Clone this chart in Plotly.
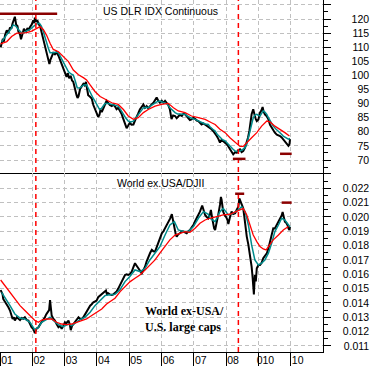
import plotly.graph_objects as go

# ---------------- data ----------------
years = [2001, 2002, 2003, 2004, 2005, 2006, 2007, 2008, 2009, 2010]
year_labels = ["01", "02", "03", "04", "05", "06", "07", "08", "010", "10"]
event_dates = [2002.11, 2008.38]

dlr_ticks = [70, 75, 80, 85, 90, 95, 100, 105, 110, 115, 120]
ratio_ticks = [0.011, 0.012, 0.013, 0.014, 0.015, 0.016, 0.017, 0.018, 0.019, 0.020, 0.021, 0.022]

# US Dollar index (black price line)
dlr_t = [2001.02, 2001.05, 2001.09, 2001.12, 2001.16, 2001.21, 2001.26, 2001.31, 2001.35, 2001.39,
         2001.43, 2001.46, 2001.50, 2001.54, 2001.57, 2001.62, 2001.65, 2001.67, 2001.70, 2001.74,
         2001.77, 2001.81, 2001.85, 2001.89, 2001.93, 2001.98, 2002.03, 2002.06, 2002.08, 2002.12,
         2002.16, 2002.19, 2002.24, 2002.29, 2002.34, 2002.39, 2002.44, 2002.48, 2002.53, 2002.56,
         2002.60, 2002.65, 2002.70, 2002.75, 2002.81, 2002.86, 2002.91, 2002.96, 2003.01, 2003.06,
         2003.10, 2003.14, 2003.19, 2003.23, 2003.27, 2003.32, 2003.37, 2003.40, 2003.43, 2003.48,
         2003.53, 2003.58, 2003.62, 2003.66, 2003.70, 2003.73, 2003.78, 2003.84, 2003.89, 2003.94,
         2003.99, 2004.04, 2004.08, 2004.11, 2004.15, 2004.20, 2004.25, 2004.30, 2004.35, 2004.40,
         2004.46, 2004.51, 2004.56, 2004.61, 2004.66, 2004.71, 2004.77, 2004.82, 2004.87, 2004.92,
         2004.97, 2005.02, 2005.07, 2005.13, 2005.18, 2005.23, 2005.28, 2005.33, 2005.39, 2005.44,
         2005.49, 2005.54, 2005.59, 2005.64, 2005.70, 2005.75, 2005.80, 2005.85, 2005.90, 2005.95,
         2006.01, 2006.06, 2006.11, 2006.16, 2006.21, 2006.26, 2006.31, 2006.36, 2006.42, 2006.47,
         2006.52, 2006.57, 2006.63, 2006.68, 2006.73, 2006.78, 2006.83, 2006.88, 2006.93, 2006.99,
         2007.04, 2007.09, 2007.14, 2007.19, 2007.24, 2007.30, 2007.35, 2007.40, 2007.45, 2007.50,
         2007.55, 2007.60, 2007.66, 2007.71, 2007.76, 2007.81, 2007.86, 2007.91, 2007.97, 2008.02,
         2008.07, 2008.12, 2008.17, 2008.22, 2008.28, 2008.33, 2008.38, 2008.43, 2008.48, 2008.53,
         2008.59, 2008.64, 2008.68, 2008.72, 2008.76, 2008.79, 2008.84, 2008.86, 2008.89, 2008.92,
         2008.95, 2009.00, 2009.05, 2009.09, 2009.13, 2009.16, 2009.20, 2009.26, 2009.31, 2009.36,
         2009.41, 2009.46, 2009.51, 2009.57, 2009.62, 2009.67, 2009.72, 2009.77, 2009.82, 2009.87,
         2009.93, 2009.96, 2009.98]
dlr_v = [110.0, 111.5, 113.0, 112.0, 114.5, 116.0, 115.0, 117.0, 116.5, 118.5,
         119.5, 120.8, 118.0, 117.5, 115.5, 114.5, 112.8, 113.5, 115.0, 116.5,
         116.0, 115.5, 116.8, 116.0, 117.2, 118.0, 119.5, 118.5, 120.5, 119.0,
         119.5, 118.3, 117.5, 115.0, 113.0, 110.5, 108.2, 106.0, 104.0, 105.5,
         106.5, 108.0, 107.5, 108.2, 107.0, 105.5, 104.0, 102.5, 100.5, 99.5,
         100.8, 99.0, 99.8, 98.2, 97.7, 95.0, 93.0, 92.0, 92.6, 95.2,
         96.0, 97.0, 96.5, 97.7, 95.0, 93.0, 92.5, 91.8, 89.5, 88.2,
         86.5, 85.3, 86.0, 87.8, 87.0, 88.5, 89.5, 91.0, 90.3, 89.5,
         89.1, 89.6, 89.0, 88.0, 88.5, 87.5, 86.2, 84.5, 82.6, 81.3,
         82.2, 83.2, 82.5, 82.6, 84.0, 85.0, 86.5, 87.9, 89.0, 89.7,
         88.5, 89.1, 88.3, 89.1, 89.8, 90.3, 91.2, 92.2, 91.0, 90.3,
         91.0, 90.3, 91.0, 90.3, 89.5, 87.9, 84.5, 85.8, 85.6, 84.8,
         85.4, 86.0, 85.6, 86.4, 86.2, 85.5, 85.0, 84.2, 84.4, 85.0,
         84.6, 84.0, 83.8, 83.0, 82.6, 83.0, 82.6, 82.2, 82.0, 81.5,
         80.9, 80.3, 79.5, 78.5, 77.5, 76.2, 77.2, 76.8, 76.0, 75.6,
         74.8, 73.8, 72.8, 72.0, 72.8, 72.6, 73.5, 73.8, 72.8, 73.2,
         74.5, 76.2, 78.0, 80.3, 83.5, 86.2, 88.0, 86.5, 85.6, 84.5,
         83.8, 84.4, 86.8, 87.5, 88.8, 87.2, 86.2, 85.5, 84.4, 82.5,
         81.5, 80.5, 79.7, 79.0, 78.8, 78.5, 78.0, 77.2, 76.8, 76.0,
         75.0, 75.5, 77.4]

# short moving average (teal)
dlr_fast_t = [2001.05, 2001.15, 2001.26, 2001.34, 2001.41, 2001.49, 2001.57, 2001.65, 2001.72, 2001.82,
              2001.93, 2002.00, 2002.08, 2002.15, 2002.22, 2002.28, 2002.34, 2002.39, 2002.44, 2002.50,
              2002.55, 2002.65, 2002.75, 2002.81, 2002.88, 2002.96, 2003.04, 2003.12, 2003.20, 2003.27,
              2003.33, 2003.39, 2003.46, 2003.53, 2003.60, 2003.68, 2003.75, 2003.81, 2003.88, 2003.94,
              2004.01, 2004.08, 2004.14, 2004.20, 2004.25, 2004.35, 2004.46, 2004.56, 2004.66, 2004.74,
              2004.82, 2004.90, 2004.97, 2005.05, 2005.13, 2005.20, 2005.28, 2005.36, 2005.44, 2005.52,
              2005.59, 2005.70, 2005.80, 2005.88, 2005.95, 2006.03, 2006.11, 2006.18, 2006.26, 2006.34,
              2006.42, 2006.50, 2006.57, 2006.65, 2006.73, 2006.80, 2006.88, 2006.96, 2007.04, 2007.14,
              2007.24, 2007.35, 2007.45, 2007.50, 2007.58, 2007.66, 2007.73, 2007.81, 2007.89, 2007.97,
              2008.05, 2008.12, 2008.20, 2008.28, 2008.35, 2008.43, 2008.53, 2008.59, 2008.64, 2008.69,
              2008.74, 2008.79, 2008.84, 2008.90, 2008.95, 2009.00, 2009.05, 2009.10, 2009.15, 2009.20,
              2009.26, 2009.31, 2009.36, 2009.41, 2009.46, 2009.54, 2009.62, 2009.70, 2009.77, 2009.85,
              2009.93, 2009.98]
dlr_fast_v = [111.9, 113.5, 115.0, 116.5, 117.9, 117.5, 116.3, 115.3, 115.0, 115.8,
              116.3, 117.0, 117.9, 118.4, 118.5, 117.5, 115.6, 113.5, 111.4, 109.5,
              108.0, 108.0, 108.3, 108.0, 106.5, 104.9, 103.0, 101.3, 100.5, 100.1,
              98.0, 95.6, 95.5, 96.1, 96.6, 96.7, 95.0, 93.2, 92.0, 90.9,
              89.3, 88.0, 88.3, 89.2, 90.0, 90.0, 89.7, 89.3, 89.1, 87.8,
              86.2, 84.8, 83.8, 83.5, 83.8, 84.8, 86.2, 87.5, 88.5, 88.7,
              88.5, 89.5, 90.3, 90.8, 90.9, 90.6, 90.3, 89.8, 88.5, 87.5,
              86.8, 86.3, 86.2, 86.1, 86.2, 85.6, 85.0, 84.6, 84.4, 83.8,
              83.2, 82.8, 82.6, 81.8, 81.0, 80.3, 79.0, 77.9, 77.2, 76.8,
              76.0, 75.0, 74.0, 73.2, 73.0, 73.2, 73.8, 74.5, 75.6, 77.8,
              80.3, 82.8, 85.0, 86.0, 86.2, 85.8, 85.6, 86.5, 87.4, 87.0,
              86.2, 85.0, 83.8, 82.8, 82.0, 81.0, 80.3, 79.3, 78.5, 77.9,
              77.4, 77.6]

# long moving average (red)
dlr_slow_t = [2001.02, 2001.21, 2001.36, 2001.52, 2001.67, 2001.83, 2001.98, 2002.14, 2002.24, 2002.34,
              2002.44, 2002.55, 2002.65, 2002.81, 2002.96, 2003.12, 2003.27, 2003.43, 2003.58, 2003.68,
              2003.79, 2003.94, 2004.10, 2004.25, 2004.46, 2004.66, 2004.82, 2004.97, 2005.13, 2005.28,
              2005.44, 2005.59, 2005.80, 2006.00, 2006.21, 2006.37, 2006.52, 2006.73, 2006.93, 2007.14,
              2007.35, 2007.55, 2007.66, 2007.81, 2007.97, 2008.12, 2008.28, 2008.43, 2008.53, 2008.64,
              2008.79, 2008.95, 2009.10, 2009.26, 2009.36, 2009.51, 2009.67, 2009.82, 2009.96]
dlr_slow_v = [111.2, 112.0, 113.8, 115.0, 115.0, 115.2, 115.7, 116.7, 117.3, 116.3,
              114.3, 111.4, 109.2, 108.4, 106.6, 104.9, 101.9, 100.2, 99.2, 98.4,
              96.6, 94.3, 92.5, 91.5, 90.3, 89.7, 87.9, 85.6, 84.4, 85.0,
              86.8, 87.9, 89.1, 89.7, 90.1, 88.5, 87.4, 86.8, 85.6, 85.0,
              84.4, 83.2, 82.6, 80.9, 79.7, 77.9, 76.2, 74.8, 74.8, 76.2,
              77.9, 79.7, 82.0, 83.8, 83.5, 82.0, 80.9, 79.7, 78.5]

# World ex-USA / DJII ratio (black)
ratio_t = [2001.02, 2001.05, 2001.08, 2001.10, 2001.15, 2001.21, 2001.26, 2001.31, 2001.35, 2001.39,
           2001.43, 2001.46, 2001.52, 2001.57, 2001.62, 2001.67, 2001.72, 2001.77, 2001.83, 2001.88,
           2001.93, 2001.98, 2002.03, 2002.08, 2002.13, 2002.19, 2002.24, 2002.29, 2002.34, 2002.39,
           2002.43, 2002.47, 2002.52, 2002.55, 2002.58, 2002.60, 2002.65, 2002.70, 2002.76, 2002.81,
           2002.86, 2002.91, 2002.96, 2003.01, 2003.06, 2003.12, 2003.16, 2003.19, 2003.23, 2003.27,
           2003.32, 2003.37, 2003.43, 2003.48, 2003.53, 2003.58, 2003.63, 2003.68, 2003.74, 2003.79,
           2003.84, 2003.89, 2003.94, 2003.99, 2004.04, 2004.10, 2004.15, 2004.20, 2004.25, 2004.28,
           2004.31, 2004.35, 2004.40, 2004.46, 2004.51, 2004.56, 2004.61, 2004.66, 2004.71, 2004.77,
           2004.82, 2004.87, 2004.92, 2004.97, 2005.02, 2005.08, 2005.13, 2005.18, 2005.23, 2005.28,
           2005.34, 2005.39, 2005.44, 2005.49, 2005.54, 2005.59, 2005.65, 2005.70, 2005.75, 2005.80,
           2005.85, 2005.90, 2005.96, 2006.01, 2006.06, 2006.11, 2006.16, 2006.21, 2006.27, 2006.32,
           2006.36, 2006.40, 2006.44, 2006.47, 2006.52, 2006.57, 2006.63, 2006.68, 2006.73, 2006.78,
           2006.83, 2006.88, 2006.94, 2006.99, 2007.04, 2007.09, 2007.14, 2007.19, 2007.26, 2007.30,
           2007.35, 2007.40, 2007.45, 2007.50, 2007.53, 2007.57, 2007.60, 2007.63, 2007.66, 2007.71,
           2007.76, 2007.81, 2007.84, 2007.86, 2007.91, 2007.96, 2008.00, 2008.04, 2008.07, 2008.12,
           2008.17, 2008.22, 2008.28, 2008.33, 2008.38, 2008.41, 2008.43, 2008.46, 2008.48, 2008.53,
           2008.56, 2008.59, 2008.64, 2008.69, 2008.74, 2008.79, 2008.82, 2008.84, 2008.86, 2008.89,
           2008.92, 2008.95, 2009.00, 2009.05, 2009.10, 2009.15, 2009.20, 2009.26, 2009.31, 2009.36,
           2009.41, 2009.46, 2009.51, 2009.57, 2009.62, 2009.67, 2009.72, 2009.75, 2009.78, 2009.82,
           2009.86, 2009.90, 2009.93, 2009.96, 2009.98]
ratio_v = [0.01490, 0.01474, 0.01460, 0.01428, 0.01410, 0.01393, 0.01370, 0.01347, 0.01310, 0.01288,
           0.01300, 0.01277, 0.01300, 0.01288, 0.01280, 0.01295, 0.01290, 0.01300, 0.01280, 0.01277,
           0.01250, 0.01230, 0.01220, 0.01190, 0.01220, 0.01230, 0.01250, 0.01265, 0.01280, 0.01300,
           0.01320, 0.01335, 0.01350, 0.01420, 0.01350, 0.01312, 0.01290, 0.01277, 0.01250, 0.01230,
           0.01240, 0.01219, 0.01240, 0.01265, 0.01260, 0.01277, 0.01250, 0.01210, 0.01240, 0.01253,
           0.01270, 0.01288, 0.01300, 0.01288, 0.01290, 0.01300, 0.01320, 0.01335, 0.01360, 0.01381,
           0.01390, 0.01405, 0.01410, 0.01416, 0.01440, 0.01451, 0.01460, 0.01474, 0.01480, 0.01486,
           0.01460, 0.01467, 0.01460, 0.01456, 0.01460, 0.01467, 0.01480, 0.01500, 0.01520, 0.01549,
           0.01570, 0.01595, 0.01600, 0.01595, 0.01600, 0.01619, 0.01650, 0.01677, 0.01660, 0.01642,
           0.01620, 0.01607, 0.01630, 0.01653, 0.01690, 0.01723, 0.01750, 0.01770, 0.01760, 0.01758,
           0.01790, 0.01828, 0.01860, 0.01886, 0.01900, 0.01921, 0.01940, 0.01967, 0.01990, 0.02020,
           0.01970, 0.01909, 0.01880, 0.01863, 0.01880, 0.01886, 0.01900, 0.01898, 0.01890, 0.01886,
           0.01900, 0.01909, 0.01930, 0.01944, 0.01970, 0.01991, 0.02010, 0.02037, 0.02080, 0.02050,
           0.02014, 0.02000, 0.01991, 0.02020, 0.02049, 0.01990, 0.01944, 0.01920, 0.01909, 0.01956,
           0.02020, 0.02084, 0.02140, 0.02120, 0.02037, 0.02010, 0.02000, 0.01980, 0.01950, 0.02000,
           0.02037, 0.02020, 0.02026, 0.02050, 0.02072, 0.02130, 0.02119, 0.02110, 0.02095, 0.02060,
           0.02010, 0.01944, 0.01863, 0.01805, 0.01735, 0.01653, 0.01580, 0.01510, 0.01460, 0.01595,
           0.01550, 0.01642, 0.01665, 0.01665, 0.01680, 0.01712, 0.01730, 0.01747, 0.01780, 0.01828,
           0.01880, 0.01921, 0.01920, 0.01944, 0.01970, 0.01991, 0.02010, 0.02035, 0.02000, 0.01967,
           0.01960, 0.01944, 0.01920, 0.01909, 0.01930]

ratio_fast_t = [2001.05, 2001.15, 2001.31, 2001.46, 2001.62, 2001.77, 2001.93, 2002.08, 2002.19, 2002.29,
                2002.44, 2002.55, 2002.65, 2002.81, 2002.96, 2003.12, 2003.22, 2003.32, 2003.48, 2003.63,
                2003.79, 2003.94, 2004.10, 2004.25, 2004.35, 2004.46, 2004.56, 2004.71, 2004.87, 2005.02,
                2005.18, 2005.34, 2005.49, 2005.64, 2005.80, 2005.95, 2006.11, 2006.26, 2006.40, 2006.52,
                2006.68, 2006.83, 2006.99, 2007.14, 2007.30, 2007.45, 2007.50, 2007.66, 2007.81, 2007.91,
                2008.07, 2008.22, 2008.38, 2008.48, 2008.59, 2008.69, 2008.79, 2008.89, 2009.00, 2009.10,
                2009.20, 2009.31, 2009.41, 2009.51, 2009.62, 2009.72, 2009.82, 2009.93, 2009.98]
ratio_fast_v = [0.01474, 0.01440, 0.01381, 0.01323, 0.01295, 0.01288, 0.01265, 0.01212, 0.01230, 0.01265,
                0.01288, 0.01300, 0.01277, 0.01249, 0.01235, 0.01253, 0.01242, 0.01258, 0.01284, 0.01300,
                0.01335, 0.01381, 0.01416, 0.01451, 0.01456, 0.01456, 0.01460, 0.01491, 0.01549, 0.01584,
                0.01630, 0.01619, 0.01642, 0.01700, 0.01747, 0.01793, 0.01874, 0.01944, 0.01967, 0.01909,
                0.01898, 0.01898, 0.01933, 0.01991, 0.02037, 0.02019, 0.01991, 0.01967, 0.02037, 0.02060,
                0.02014, 0.02026, 0.02049, 0.02072, 0.02037, 0.01944, 0.01805, 0.01700, 0.01665, 0.01677,
                0.01700, 0.01747, 0.01816, 0.01898, 0.01944, 0.01991, 0.01979, 0.01944, 0.01930]

ratio_slow_t = [2001.02, 2001.15, 2001.31, 2001.46, 2001.62, 2001.77, 2001.93, 2002.08, 2002.19, 2002.29,
                2002.44, 2002.60, 2002.75, 2002.91, 2003.06, 2003.22, 2003.37, 2003.53, 2003.68, 2003.84,
                2003.99, 2004.15, 2004.30, 2004.41, 2004.56, 2004.72, 2004.87, 2005.03, 2005.18, 2005.33,
                2005.49, 2005.64, 2005.80, 2005.95, 2006.11, 2006.26, 2006.42, 2006.57, 2006.73, 2006.88,
                2007.04, 2007.19, 2007.35, 2007.50, 2007.71, 2007.91, 2008.12, 2008.28, 2008.43, 2008.53,
                2008.64, 2008.74, 2008.84, 2008.95, 2009.05, 2009.15, 2009.24, 2009.31, 2009.46, 2009.62,
                2009.77, 2009.93]
ratio_slow_v = [0.01560, 0.01521, 0.01474, 0.01428, 0.01381, 0.01347, 0.01312, 0.01277, 0.01265, 0.01281,
                0.01288, 0.01288, 0.01265, 0.01253, 0.01249, 0.01253, 0.01265, 0.01277, 0.01288, 0.01312,
                0.01335, 0.01358, 0.01393, 0.01409, 0.01433, 0.01479, 0.01514, 0.01549, 0.01572, 0.01595,
                0.01630, 0.01665, 0.01700, 0.01747, 0.01793, 0.01840, 0.01874, 0.01886, 0.01898, 0.01893,
                0.01921, 0.01956, 0.01979, 0.01991, 0.02002, 0.02014, 0.02019, 0.02033, 0.02049, 0.02060,
                0.02014, 0.01944, 0.01874, 0.01828, 0.01793, 0.01777, 0.01770, 0.01793, 0.01840, 0.01874,
                0.01909, 0.01933]

# dark-red reference levels (start, end, level)
dlr_mark_start = [2001.00, 2008.21, 2009.67]
dlr_mark_end = [2002.77, 2008.60, 2010.03]
dlr_mark_level = [121.9, 70.4, 72.2]
ratio_mark_start = [2008.28, 2009.72]
ratio_mark_end = [2008.56, 2010.03]
ratio_mark_level = [0.02162, 0.02100]

# ---------------- figure ----------------
BLACK_W = 2.0
TEAL = "#008b8b"
RED = "#ff0000"
DARKRED = "#8b0000"
GRID = "#c0c0c0"
W, H = 371, 366
PLOT_R = 323
PLOT_B = 352
TOP_H = 173

xdom = [0, PLOT_R / W]
split = 1 - TOP_H / PLOT_B

fig = go.Figure()
fig.add_trace(go.Scatter(x=dlr_t, y=dlr_v, xaxis="x", yaxis="y3", mode="lines",
                         line=dict(color="black", width=BLACK_W)))
fig.add_trace(go.Scatter(x=dlr_fast_t, y=dlr_fast_v, xaxis="x", yaxis="y3", mode="lines",
                         line=dict(color=TEAL, width=1.5)))
fig.add_trace(go.Scatter(x=dlr_slow_t, y=dlr_slow_v, xaxis="x", yaxis="y3", mode="lines",
                         line=dict(color=RED, width=1.3)))
fig.add_trace(go.Scatter(x=ratio_t, y=ratio_v, xaxis="x2", yaxis="y4", mode="lines",
                         line=dict(color="black", width=BLACK_W)))
fig.add_trace(go.Scatter(x=ratio_fast_t, y=ratio_fast_v, xaxis="x2", yaxis="y4", mode="lines",
                         line=dict(color=TEAL, width=1.5)))
fig.add_trace(go.Scatter(x=ratio_slow_t, y=ratio_slow_v, xaxis="x2", yaxis="y4", mode="lines",
                         line=dict(color=RED, width=1.3)))

top_range = [65.39, 126.74]
bot_range = [0.010576, 0.023068]

grid_common = dict(showgrid=True, gridcolor=GRID, griddash="4px,3px", gridwidth=1, zeroline=False)

shapes = []
for d in event_dates:
    shapes.append(dict(type="line", xref="x", yref="paper", x0=d, x1=d, y0=0, y1=1,
                       line=dict(color=RED, width=1.5, dash="5px,4px")))
for s, e, lv in zip(dlr_mark_start, dlr_mark_end, dlr_mark_level):
    shapes.append(dict(type="line", xref="x", yref="y", x0=s, x1=e, y0=lv, y1=lv,
                       line=dict(color=DARKRED, width=2.5)))
for s, e, lv in zip(ratio_mark_start, ratio_mark_end, ratio_mark_level):
    shapes.append(dict(type="line", xref="x2", yref="y2", x0=s, x1=e, y0=lv, y1=lv,
                       line=dict(color=DARKRED, width=2.5)))

label_font = dict(family="Liberation Sans, Arial, sans-serif", size=10.5, color="black")

fig.update_layout(
    width=W, height=H,
    margin=dict(l=0, r=0, t=0, b=H - PLOT_B, pad=0),
    paper_bgcolor="white", plot_bgcolor="white",
    showlegend=False,
    font=label_font,
    xaxis=dict(domain=xdom, range=[2001, 2011], anchor="y", tickvals=years,
               showticklabels=False, ticks="", showline=True, linecolor="black", linewidth=1,
               **grid_common),
    xaxis2=dict(domain=xdom, range=[2001, 2011], anchor="y2", tickvals=years, ticktext=year_labels,
                ticks="outside", ticklen=14, tickcolor="black", tickwidth=1,
                ticklabelshift=7, ticklabelstandoff=-16, tickfont=label_font,
                showline=True, linecolor="black", linewidth=1, **grid_common),
    yaxis=dict(domain=[split, 1], range=top_range, anchor="x", side="right",
               tick0=0, dtick=5, showticklabels=False, ticks="outside", ticklen=7,
               tickcolor="black", tickwidth=1,
               minor=dict(dtick=2.5, ticks="outside", ticklen=4, tickcolor="black", showgrid=False),
               showline=True, linecolor="black", linewidth=1, **grid_common),
    yaxis3=dict(overlaying="y", range=top_range, side="left", anchor="free", position=0.995,
                tickvals=dlr_ticks, ticks="", showgrid=False, showline=False, zeroline=False,
                tickfont=label_font),
    yaxis2=dict(domain=[0, split], range=bot_range, anchor="x2", side="right",
                tick0=0, dtick=0.001, showticklabels=False, ticks="outside", ticklen=7,
                tickcolor="black", tickwidth=1,
                minor=dict(dtick=0.0005, ticks="outside", ticklen=4, tickcolor="black", showgrid=False),
                showline=True, linecolor="black", linewidth=1, **grid_common),
    yaxis4=dict(overlaying="y2", range=bot_range, side="left", anchor="free", position=0.995,
                tickvals=ratio_ticks, tickformat=".3f", ticks="", showgrid=False, showline=False,
                zeroline=False, tickfont=label_font),
    shapes=shapes,
    annotations=[
        dict(text="US DLR IDX Continuous", xref="paper", yref="paper",
             x=160 / W, y=(PLOT_B - 11) / PLOT_B, xanchor="center", yanchor="middle",
             showarrow=False, font=label_font),
        dict(text="World ex.USA/DJII", xref="paper", yref="paper",
             x=160 / W, y=(PLOT_B - 182.5) / PLOT_B, xanchor="center", yanchor="middle",
             showarrow=False, font=label_font),
        dict(text="<b>World ex-USA/<br>U.S. large caps</b>", xref="paper", yref="paper",
             x=143 / W, y=(PLOT_B - 319) / PLOT_B, xanchor="left", yanchor="middle", align="left",
             showarrow=False,
             font=dict(family="Liberation Serif, Times New Roman, serif", size=12, color="black")),
    ],
)

fig.write_html("out.html")
